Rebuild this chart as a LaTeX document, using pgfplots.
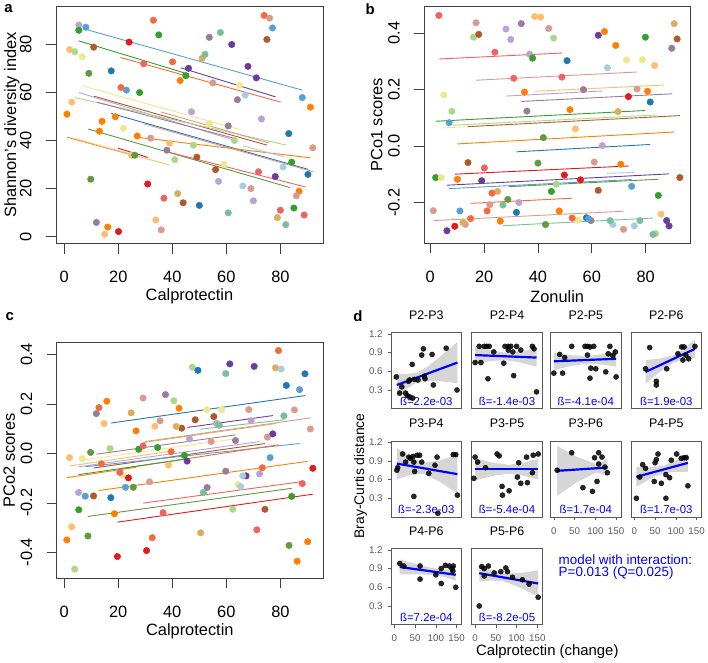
\documentclass[border=0pt]{standalone}
\usepackage{fontspec}
\setmainfont{Liberation Sans}
\usepackage{pgfplots}
\pgfplotsset{compat=1.18}

\definecolor{lblue}{HTML}{A6CEE3}
\definecolor{mblue}{HTML}{5A9FD4}
\definecolor{cblue}{HTML}{1F78B4}
\definecolor{lgreen}{HTML}{A8D888}
\definecolor{cgreen}{HTML}{33A02C}
\definecolor{dgreen}{HTML}{5E9A3E}
\definecolor{cteal}{HTML}{78BF9B}
\definecolor{salmon}{HTML}{DC9A8E}
\definecolor{lred}{HTML}{F06262}
\definecolor{cred}{HTML}{E31A1C}
\definecolor{ored}{HTML}{F26B3A}
\definecolor{corange}{HTML}{FF7F00}
\definecolor{lorange}{HTML}{FDBF6F}
\definecolor{ctan}{HTML}{D9AE5F}
\definecolor{lav}{HTML}{BCA0D6}
\definecolor{cpurple}{HTML}{6A3D9A}
\definecolor{mauve}{HTML}{9A7B9B}
\definecolor{lyel}{HTML}{EDE98E}
\definecolor{cbrown}{HTML}{B15928}

\pgfplotsset{
  P/.style={only marks, mark=*, mark size=3.3pt, color=#1, forget plot},
  L/.style={no marks, color=#1, line width=0.9pt, forget plot},
  rpanel/.style={scale only axis, anchor=south west, clip=false,
    axis line style={draw=black!75, line width=0.7pt},
    tick align=outside, major tick length=10pt,
    tick style={black!75, line width=0.7pt},
    xtick pos=left, ytick pos=left,
    yticklabel shift=11pt,
    tick label style={font=\fontsize{16.5}{18}\selectfont},
    xticklabel style={yshift=-14pt},
    yticklabel style={rotate=90, anchor=south},
    label style={font=\fontsize{16.5}{18}\selectfont}},
  dpanel/.style={scale only axis, anchor=south west,
    width=71pt, height=76.6pt, xmin=-8, xmax=162, ymin=0, ymax=1.22,
    axis line style={draw=black!65, line width=0.6pt},
    tick align=outside, major tick length=3.5pt,
    tick style={black!65, line width=0.6pt},
    xtick pos=left, ytick pos=left, xtick=\empty, ytick=\empty,
    yticklabel shift=1.5pt,
    tick label style={font=\fontsize{9.8}{11}\selectfont, text=black!65},
    xticklabel style={yshift=-3.5pt},
    title style={at={(axis description cs:0.5,1.15)}, anchor=center,
      font=\fontsize{12.5}{14}\selectfont}},
  dY/.style={ytick={0.3,0.6,0.9,1.2}, yticklabels={0.3,0.6,0.9,1.2}},
  dX/.style={xtick={0,50,100,150}, xticklabels={0,50,100,150}},
  dP/.style={only marks, mark=*, mark size=2.6pt, color=black, opacity=0.85},
  band/.style={fill=black!40, fill opacity=0.4, draw=none},
  fit/.style={no marks, color=blue, line width=2.2pt},
}
\newcommand{\blab}[1]{\node[text=blue, font=\fontsize{11.5}{13}\selectfont] at (axis description cs:0.5,0.1) {#1};}

\begin{document}
\begin{tikzpicture}
\path (0,0) rectangle (708pt,663pt);

% ---------------- a ----------------
\begin{axis}[rpanel, at={(54.3pt,419.7pt)}, width=269pt, height=239.3pt,
  xmin=-3.1, xmax=95.8, ymin=-3, ymax=96,
  xtick={0,20,40,60,80}, xticklabels={0,20,40,60,80},
  ytick={0,20,40,60,80}, yticklabels={0,20,40,60,80},
  xlabel={Calprotectin}, ylabel={Shannon's diversity index},
  xlabel style={at={(axis description cs:0.5,-0.222)}, anchor=center},
  ylabel style={at={(axis description cs:-0.165,0.5)}, anchor=center}]
\addplot[P=lav] coordinates {(5.4,88.1) (47.1,52.0) (57.1,23.0) (73.0,49.0) (70.0,14.9)};
\addplot[P=mblue] coordinates {(8.0,87.2) (23.0,61.0) (77.1,86.9) (88.1,57.9)};
\addplot[P=cgreen] coordinates {(5.4,85.9) (35.0,84.0) (45.0,67.0) (84.2,31.0) (85.0,11.9) (27.9,60.0)};
\addplot[P=lorange] coordinates {(2.0,77.9) (2.8,56.0) (39.0,38.9) (33.9,6.9) (15.0,1.0) (24.9,33.9)};
\addplot[P=lgreen] coordinates {(3.9,77.0) (40.9,32.0) (47.8,38.1) (63.0,40.0)};
\addplot[P=lyel] coordinates {(6.7,74.9) (64.9,63.0) (21.9,45.1) (59.1,30.1) (53.7,47.0)};
\addplot[P=cbrown] coordinates {(10.9,78.9) (75.0,82.1) (49.1,33.1) (56.0,27.9) (44.0,14.1)};
\addplot[P=dgreen] coordinates {(9.1,68.0) (9.8,23.9) (26.1,33.9)};
\addplot[P=cblue] coordinates {(17.4,69.0) (83.1,42.9) (90.2,25.9) (50.0,13.0)};
\addplot[P=cred] coordinates {(24.0,81.0) (30.9,21.9) (20.1,2.1)};
\addplot[P=ored] coordinates {(33.0,90.1) (40.1,72.8) (21.0,62.1) (74.0,92.1)};
\addplot[P=lred] coordinates {(29.4,72.0) (71.9,27.0) (88.8,9.0) (80.0,11.0) (36.9,16.0)};
\addplot[P=corange] coordinates {(42.9,65.0) (91.1,53.9) (1.0,51.0) (14.0,48.0) (13.0,43.9) (18.9,49.9) (27.0,41.9) (86.9,18.9) (16.1,4.0)};
\addplot[P=cpurple] coordinates {(46.0,70.1) (62.0,80.0) (68.0,70.9) (71.1,66.1) (78.1,25.0)};
\addplot[P=ctan] coordinates {(51.0,74.2) (42.0,17.9) (78.9,7.9)};
\addplot[P=cteal] coordinates {(52.1,75.9) (57.8,85.0) (60.7,9.9) (82.0,5.0)};
\addplot[P=mauve] coordinates {(53.7,83.0) (64.1,57.0) (38.0,36.0) (60.7,46.1) (11.9,5.9)};
\addplot[P=salmon] coordinates {(55.0,64.0) (76.0,91.0) (32.0,41.0) (69.1,20.0) (92.0,37.0) (85.9,17.0) (35.9,2.8)};
\addplot[P=lblue] coordinates {(67.0,58.9) (81.0,29.0) (66.1,21.1)};
\addplot[L=mblue] coordinates {(7.0,86.6) (88.1,61.0)};
\addplot[L=cgreen] coordinates {(5.4,81.5) (46.2,67.6)};
\addplot[L=cpurple] coordinates {(43.1,70.3) (78.2,58.2)};
\addplot[L=ored] coordinates {(20.8,74.6) (80.1,56.0)};
\addplot[L=lyel] coordinates {(6.7,62.8) (64.9,44.6)};
\addplot[L=cbrown] coordinates {(10.9,58.5) (75.0,38.1)};
\addplot[L=lav] coordinates {(5.4,60.0) (63.4,40.0)};
\addplot[L=lgreen] coordinates {(3.9,57.9) (82.2,38.1)};
\addplot[L=mauve] coordinates {(12.0,56.0) (62.7,41.0)};
\addplot[L=salmon] coordinates {(35.8,51.9) (75.8,39.0)};
\addplot[L=cblue] coordinates {(17.4,51.3) (90.3,28.0)};
\addplot[L=corange] coordinates {(26.0,41.5) (91.2,32.8)};
\addplot[L=salmon] coordinates {(29.3,47.0) (92.2,27.0)};
\addplot[L=lblue] coordinates {(66.2,37.8) (81.3,33.2)};
\addplot[L=dgreen] coordinates {(8.9,44.8) (83.6,20.4)};
\addplot[L=lred] coordinates {(38.2,35.3) (89.2,20.7)};
\addplot[L=corange] coordinates {(1.0,41.4) (24.8,34.1)};
\addplot[L=lorange] coordinates {(3.9,40.8) (39.0,29.8)};
\addplot[L=cred] coordinates {(19.9,36.8) (30.9,33.0)};
\end{axis}

% ---------------- b ----------------
\begin{axis}[rpanel, at={(425pt,420pt)}, width=268pt, height=239pt,
  xmin=-2.3, xmax=96.6, ymin=-0.344, ymax=0.495,
  xtick={0,20,40,60,80}, xticklabels={0,20,40,60,80},
  ytick={-0.2,0,0.2,0.4}, yticklabels={-0.2,0.0,0.2,0.4},
  xlabel={Zonulin}, ylabel={PCo1 scores},
  xlabel style={at={(axis description cs:0.5,-0.222)}, anchor=center},
  ylabel style={at={(axis description cs:-0.178,0.5)}, anchor=center}]
\addplot[P=lred] coordinates {(3.2,0.462) (24.0,0.332) (31.0,0.240) (48.9,0.244) (20.1,-0.077)};
\addplot[P=salmon] coordinates {(17.0,0.436) (44.0,0.416) (76.8,0.202) (60.9,-0.056) (22.1,-0.207) (1.1,-0.228) (13.0,-0.276) (71.8,-0.294)};
\addplot[P=lgreen] coordinates {(16.1,0.385) (45.8,0.382) (8.0,0.123) (46.8,-0.134) (83.7,-0.309)};
\addplot[P=cbrown] coordinates {(18.0,0.395) (91.7,0.379) (14.0,-0.058) (62.4,-0.156) (92.7,-0.111)};
\addplot[P=lav] coordinates {(28.1,0.414) (29.9,0.377) (36.9,0.325) (32.9,-0.199) (63.9,0.002)};
\addplot[P=mauve] coordinates {(33.8,0.433) (89.7,0.346) (56.9,0.200) (35.9,0.124) (59.7,-0.263)};
\addplot[P=lorange] coordinates {(38.8,0.458) (41.0,0.456) (83.3,0.285) (53.9,0.061) (85.7,-0.240)};
\addplot[P=cgreen] coordinates {(38.0,0.311) (79.9,0.385) (2.0,-0.111) (45.0,-0.160) (84.7,-0.174)};
\addplot[P=cblue] coordinates {(50.8,0.302) (81.7,0.156) (32.0,-0.234) (58.0,-0.253)};
\addplot[P=corange] coordinates {(35.0,0.191) (64.7,0.405) (68.9,0.356) (80.7,0.194) (51.9,0.129) (70.8,-0.064) (10.1,-0.117) (47.9,-0.229) (26.0,-0.265)};
\addplot[P=cpurple] coordinates {(62.4,0.392) (19.1,-0.122) (6.2,-0.299) (87.8,-0.263) (88.7,-0.282)};
\addplot[P=lblue] coordinates {(65.8,0.277) (67.8,-0.277) (75.8,-0.282)};
\addplot[P=lyel] coordinates {(72.9,0.305) (78.8,0.305) (5.0,0.181) (4.1,-0.111) (54.9,-0.261)};
\addplot[P=ctan] coordinates {(90.6,0.433) (69.7,0.122) (25.0,-0.160) (12.1,-0.270)};
\addplot[P=cred] coordinates {(73.6,0.175) (49.8,-0.102) (55.8,-0.119) (9.1,-0.283)};
\addplot[P=mblue] coordinates {(7.0,0.083) (74.8,-0.142) (11.0,-0.229) (58.8,-0.256)};
\addplot[P=dgreen] coordinates {(42.0,0.030) (40.0,-0.060) (28.8,-0.188) (42.8,-0.277)};
\addplot[P=ored] coordinates {(22.9,-0.166) (15.0,-0.256) (52.7,-0.254) (21.1,-0.229)};
\addplot[P=cteal] coordinates {(27.0,-0.208) (66.8,-0.263) (77.9,-0.263) (82.7,-0.312)};
\addplot[L=lred] coordinates {(3.2,0.308) (48.9,0.329)};
\addplot[L=salmon] coordinates {(17.0,0.233) (76.8,0.262)};
\addplot[L=lorange] coordinates {(38.8,0.194) (86.9,0.216)};
\addplot[L=lav] coordinates {(28.1,0.177) (64.0,0.195)};
\addplot[L=mauve] coordinates {(33.8,0.158) (89.8,0.185)};
\addplot[L=cgreen] coordinates {(2.0,0.088) (79.9,0.126)};
\addplot[L=lgreen] coordinates {(8.4,0.074) (83.7,0.110)};
\addplot[L=lyel] coordinates {(4.1,0.064) (14.0,0.069)};
\addplot[L=cbrown] coordinates {(14.0,0.069) (92.7,0.108)};
\addplot[L=corange] coordinates {(10.1,0.008) (90.6,0.050)};
\addplot[L=cblue] coordinates {(32.0,-0.020) (81.7,0.006)};
\addplot[L=cred] coordinates {(9.1,-0.099) (73.9,-0.070)};
\addplot[L=lblue] coordinates {(65.6,-0.096) (75.8,-0.093)};
\addplot[L=cpurple] coordinates {(6.2,-0.138) (88.7,-0.098)};
\addplot[L=mblue] coordinates {(7.0,-0.150) (74.8,-0.118)};
\addplot[L=dgreen] coordinates {(29.3,-0.143) (84.7,-0.117)};
\addplot[L=ored] coordinates {(15.0,-0.202) (52.7,-0.184)};
\addplot[L=salmon] coordinates {(1.1,-0.263) (71.8,-0.230)};
\addplot[L=cteal] coordinates {(27.0,-0.281) (82.7,-0.254)};
\end{axis}

% ---------------- c ----------------
\begin{axis}[rpanel, at={(55pt,83pt)}, width=268.3pt, height=237.7pt,
  xmin=-2.8, xmax=95.8, ymin=-0.505, ymax=0.45,
  xtick={0,20,40,60,80}, xticklabels={0,20,40,60,80},
  ytick={-0.4,-0.2,0,0.2,0.4}, yticklabels={-0.4,-0.2,0.0,0.2,0.4},
  xlabel={Calprotectin}, ylabel={PCo2 scores},
  xlabel style={at={(axis description cs:0.5,-0.223)}, anchor=center},
  ylabel style={at={(axis description cs:-0.178,0.5)}, anchor=center}]
\addplot[P=corange] coordinates {(1.0,-0.350) (15.8,0.211) (18.6,-0.244) (26.6,0.091) (42.5,0.183) (86.2,-0.436) (90.1,-0.357)};
\addplot[P=lorange] coordinates {(2.0,-0.017) (2.8,-0.297) (14.8,0.121) (33.6,0.110) (38.6,-0.047)};
\addplot[P=lgreen] coordinates {(3.9,-0.468) (17.0,0.020) (40.6,0.213) (47.4,0.349) (62.4,-0.226)};
\addplot[P=lav] coordinates {(5.4,-0.158) (46.4,0.059) (56.4,0.121) (69.2,0.132) (72.3,-0.083)};
\addplot[P=cgreen] coordinates {(5.4,-0.228) (27.6,0.017) (34.6,0.024) (44.5,-0.008) (84.2,-0.174)};
\addplot[P=lyel] coordinates {(6.7,-0.020) (21.7,-0.089) (52.8,0.177) (58.3,0.177) (64.3,-0.126)};
\addplot[P=mblue] coordinates {(7.8,-0.173) (22.7,-0.137) (76.2,-0.017) (87.1,0.258)};
\addplot[P=dgreen] coordinates {(8.8,-0.334) (9.8,0.004) (25.6,-0.137) (83.2,-0.372)};
\addplot[P=cbrown] coordinates {(10.9,-0.172) (43.5,0.102) (48.5,0.136) (55.4,0.149) (74.3,-0.226)};
\addplot[P=mauve] coordinates {(11.9,0.161) (37.5,0.238) (52.9,-0.138) (59.8,-0.072) (63.4,0.052)};
\addplot[P=ored] coordinates {(12.9,0.185) (13.8,-0.042) (32.6,-0.341) (39.6,0.007) (73.3,-0.058) (79.3,0.416)};
\addplot[P=cblue] coordinates {(17.3,-0.179) (49.5,0.336) (82.2,0.275) (89.1,0.322)};
\addplot[P=cred] coordinates {(19.7,-0.417) (23.8,-0.099) (30.5,-0.393) (92.0,-0.060)};
\addplot[P=lred] coordinates {(20.6,-0.077) (29.2,0.030) (36.6,-0.240) (71.3,-0.309) (88.1,-0.122)};
\addplot[P=ctan] coordinates {(24.8,0.164) (41.5,0.109) (50.5,-0.321) (78.2,0.346)};
\addplot[P=salmon] coordinates {(29.2,0.224) (31.6,-0.115) (35.5,0.132) (54.4,0.048) (68.3,0.177) (75.2,0.066) (85.2,0.176) (91.1,0.099)};
\addplot[P=cteal] coordinates {(51.5,-0.158) (57.4,0.114) (59.8,0.323) (81.3,0.152)};
\addplot[P=cpurple] coordinates {(45.5,-0.031) (61.3,0.362) (67.3,-0.091) (70.3,0.352) (77.2,0.079)};
\addplot[P=lblue] coordinates {(65.3,-0.134) (66.1,-0.091) (80.3,0.341)};
\addplot[L=cblue] coordinates {(17.4,0.123) (89.2,0.234)};
\addplot[L=cpurple] coordinates {(45.6,0.105) (77.2,0.153)};
\addplot[L=salmon] coordinates {(30.0,0.048) (91.3,0.144)};
\addplot[L=cteal] coordinates {(50.5,0.098) (81.3,0.136)};
\addplot[L=ctan] coordinates {(29.3,0.044) (78.4,0.121)};
\addplot[L=mauve] coordinates {(12.0,-0.003) (63.4,0.075)};
\addplot[L=lav] coordinates {(5.4,-0.054) (72.3,0.048)};
\addplot[L=lyel] coordinates {(6.7,-0.027) (65.2,0.062)};
\addplot[L=cbrown] coordinates {(10.9,-0.059) (74.3,0.040)};
\addplot[L=mblue] coordinates {(7.8,-0.054) (87.1,0.040)};
\addplot[L=ored] coordinates {(20.5,-0.063) (79.3,0.035)};
\addplot[L=cgreen] coordinates {(5.4,-0.086) (44.7,-0.023)};
\addplot[L=lorange] coordinates {(2.0,-0.051) (38.8,0.008)};
\addplot[L=corange] coordinates {(1.0,-0.098) (26.6,-0.056)};
\addplot[L=corange] coordinates {(12.9,-0.150) (90.1,-0.032)};
\addplot[L=lred] coordinates {(29.3,-0.201) (88.1,-0.114)};
\addplot[L=dgreen] coordinates {(8.8,-0.255) (84.2,-0.141)};
\addplot[L=cred] coordinates {(19.7,-0.278) (92.0,-0.165)};
\end{axis}

% ---------------- d ----------------
\begin{axis}[dpanel, dY, at={(391.7pt,253.7pt)}, title={P2-P3}]
\addplot[dP] coordinates {(4.7,0.51) (13,0.25) (18,0.35) (27,0.25) (31,0.21) (37,0.19) (44,0.17) (34,0.44) (43,0.71) (48,0.47) (66,0.86) (70,0.96) (72,0.52) (74,0.48) (91,0.87) (94,0.38) (125,0.97) (151,0.30) (37,0.46) (57,0.46)};
\addplot[band] coordinates {(6,0.20) (30,0.324) (55,0.421) (80,0.447) (105,0.441) (130,0.426) (152,0.41) (152,1.07) (130,0.946) (105,0.807) (80,0.677) (55,0.581) (30,0.554) (6,0.56)} -- cycle;
\addplot[fit] coordinates {(6,0.38) (152,0.74)};
\blab{ß=2.2e-03}
\end{axis}
\begin{axis}[dpanel, at={(473pt,253.7pt)}, title={P2-P4}]
\addplot[dP] coordinates {(0,0.74) (14,0.74) (10,1.0) (22,1.0) (28,1.0) (34,1.0) (45,0.91) (31,0.48) (69,0.73) (72,1.0) (80,1.0) (86,1.0) (100,1.0) (110,0.94) (93,0.53) (138,1.0) (142,0.96) (148,0.27) (80,0.94) (91,0.91)};
\addplot[band] coordinates {(0,0.72) (36,0.763) (72,0.78) (110,0.74) (148,0.674) (148,0.966) (110,0.92) (72,0.90) (36,0.937) (0,1.0)} -- cycle;
\addplot[fit] coordinates {(0,0.86) (148,0.82)};
\blab{ß=-1.4e-03}
\end{axis}
\begin{axis}[dpanel, at={(552.3pt,253.7pt)}, title={P2-P5}]
\addplot[dP] coordinates {(0,0.57) (14,0.87) (21,0.57) (26,0.82) (43,1.0) (75,1.0) (81,1.0) (87,0.99) (96,1.0) (81,0.86) (89,0.65) (101,0.64) (87,0.49) (125,0.59) (135,1.0) (131,0.88) (142,0.85) (148,0.91) (150,0.51)};
\addplot[band] coordinates {(0,0.62) (40,0.684) (80,0.721) (115,0.709) (150,0.674) (150,0.926) (115,0.873) (80,0.841) (40,0.858) (0,0.90)} -- cycle;
\addplot[fit] coordinates {(0,0.76) (150,0.80)};
\blab{ß=-4.1e-04}
\end{axis}
\begin{axis}[dpanel, at={(633.3pt,253.7pt)}, title={P2-P6}]
\addplot[dP] coordinates {(27,0.64) (37,0.98) (53,0.44) (53,0.38) (78,0.64) (105,0.88) (114,0.99) (120,0.99) (117,0.78) (131,0.80) (146,1.0) (124,0.86)};
\addplot[band] coordinates {(27,0.40) (61,0.588) (95,0.741) (120,0.79) (146,0.812) (146,1.108) (120,0.968) (95,0.861) (61,0.804) (27,0.78)} -- cycle;
\addplot[fit] coordinates {(27,0.59) (146,0.96)};
\blab{ß=1.9e-03}
\end{axis}

\begin{axis}[dpanel, dY, at={(391.7pt,144.7pt)}, title={P3-P4}]
\addplot[dP] coordinates {(6,0.75) (8,0.79) (20,1.01) (27,0.88) (35,0.96) (39,0.94) (45,0.97) (55,0.99) (61,0.99) (47,0.88) (49,0.73) (66,0.88) (83,0.70) (98,0.83) (103,0.96) (47,0.33) (105,0.06) (142,1.0) (148,1.0) (152,0.35)};
\addplot[band] coordinates {(6,0.606) (38,0.672) (70,0.692) (111,0.559) (152,0.375) (152,0.999) (111,0.909) (70,0.872) (38,0.966) (6,1.106)} -- cycle;
\addplot[fit] coordinates {(6,0.856) (152,0.687)};
\blab{ß=-2.3e-03}
\end{axis}
\begin{axis}[dpanel, at={(473pt,144.7pt)}, title={P3-P5}]
\addplot[dP] coordinates {(-3,0.62) (0,0.96) (6,0.88) (25,0.79) (53,1.01) (58,0.98) (65,0.49) (66,0.35) (82,0.42) (105,0.87) (102,0.64) (110,0.54) (126,0.55) (124,0.96) (138,0.71) (140,0.99) (152,1.01)};
\addplot[band] coordinates {(0,0.586) (40,0.657) (80,0.696) (116,0.664) (152,0.601) (152,0.931) (116,0.868) (80,0.836) (40,0.875) (0,0.946)} -- cycle;
\addplot[fit] coordinates {(0,0.766) (152,0.766)};
\blab{ß=-5.4e-04}
\end{axis}
\begin{axis}[dpanel, dX, at={(552.3pt,144.7pt)}, title={P3-P6}]
\addplot[dP] coordinates {(8,0.75) (43,1.03) (70,0.47) (93,0.41) (98,0.95) (104,0.57) (108,1.03) (108,0.85) (116,0.96) (123,0.80) (129,0.71)};
\addplot[band] coordinates {(8,0.34) (54,0.551) (100,0.71) (115,0.692) (129,0.651) (129,0.935) (115,0.882) (100,0.85) (54,0.969) (8,1.14)} -- cycle;
\addplot[fit] coordinates {(8,0.74) (129,0.793)};
\blab{ß=1.7e-04}
\end{axis}
\begin{axis}[dpanel, dX, at={(633.3pt,144.7pt)}, title={P4-P5}]
\addplot[dP] coordinates {(5,0.30) (13,0.64) (20,0.84) (27,0.78) (50,0.87) (53,0.92) (57,1.01) (48,0.57) (65,0.54) (76,0.30) (76,0.68) (85,0.63) (89,0.91) (102,1.01) (113,0.94) (120,0.95) (125,0.95) (129,0.50)};
\addplot[band] coordinates {(5,0.484) (37,0.608) (70,0.701) (100,0.724) (129,0.72) (129,1.014) (100,0.906) (70,0.821) (37,0.796) (5,0.804)} -- cycle;
\addplot[fit] coordinates {(5,0.644) (129,0.867)};
\blab{ß=1.7e-03}
\end{axis}

\begin{axis}[dpanel, dY, dX, at={(391.7pt,36.3pt)}, title={P4-P6}]
\addplot[dP] coordinates {(13,0.98) (23,0.94) (62,0.94) (62,0.73) (100,0.80) (113,0.90) (113,0.66) (123,0.95) (133,0.94) (139,0.90) (141,0.86) (142,0.94) (148,0.60)};
\addplot[band] coordinates {(13,0.805) (59,0.807) (105,0.79) (127,0.755) (148,0.70) (148,0.90) (127,0.885) (105,0.89) (59,0.957) (13,1.045)} -- cycle;
\addplot[fit] coordinates {(13,0.925) (148,0.80)};
\blab{ß=7.2e-04}
\end{axis}
\begin{axis}[dpanel, dX, at={(473pt,36.3pt)}, title={P5-P6}]
\addplot[dP] coordinates {(10,0.30) (16,0.93) (22,0.90) (22,0.78) (32,0.94) (46,0.83) (62,0.85) (74,0.91) (78,0.85) (90,0.76) (114,0.72) (130,0.65) (152,0.44)};
\addplot[band] coordinates {(10,0.695) (39,0.706) (68,0.698) (110,0.589) (152,0.45) (152,0.87) (110,0.829) (68,0.818) (39,0.876) (10,0.955)} -- cycle;
\addplot[fit] coordinates {(10,0.825) (152,0.66)};
\blab{ß=-8.2e-05}
\end{axis}

% labels
\node[font=\bfseries\fontsize{15}{17}\selectfont] at (6.7pt,656.3pt) {a};
\node[font=\bfseries\fontsize{15}{17}\selectfont] at (370.7pt,656.3pt) {b};
\node[font=\bfseries\fontsize{15}{17}\selectfont] at (8pt,346pt) {c};
\node[font=\bfseries\fontsize{15}{17}\selectfont] at (358.5pt,346.5pt) {d};
\node[font=\fontsize{14}{16}\selectfont, rotate=90] at (361pt,186pt) {Bray-Curtis distance};
\node[font=\fontsize{15}{17}\selectfont] at (549pt,9pt) {Calprotectin (change)};
\node[anchor=west, text=blue, font=\fontsize{13.5}{15}\selectfont] at (557pt,102pt) {model with interaction:};
\node[anchor=west, text=blue, font=\fontsize{13.5}{15}\selectfont] at (557pt,88pt) {P=0.013 (Q=0.025)};
\end{tikzpicture}
\end{document}
